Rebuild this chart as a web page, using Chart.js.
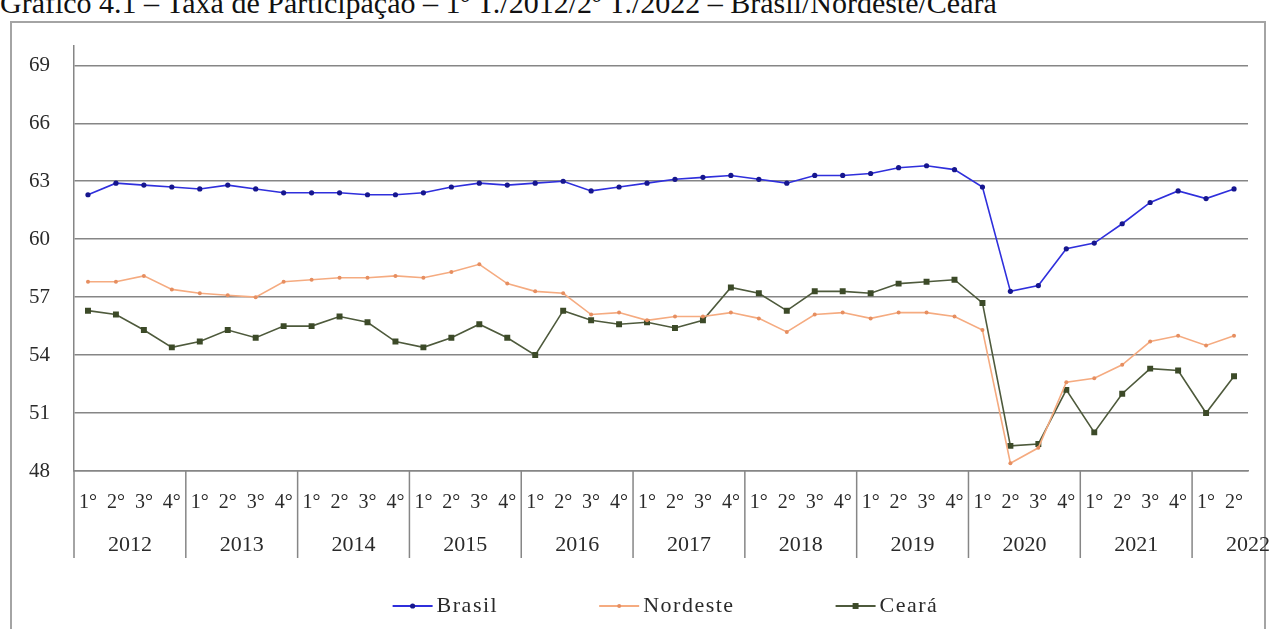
<!DOCTYPE html>
<html>
<head>
<meta charset="utf-8">
<script src="https://cdn.jsdelivr.net/npm/chart.js@4/dist/chart.umd.min.js"></script>
<style>
  html, body { margin: 0; padding: 0; background: #fff; overflow: hidden; }
  body { width: 1272px; height: 629px; position: relative; }
  #titulo {
    position: absolute; left: 0; top: -14px;
    font: 30px "Liberation Serif", "Times New Roman", serif;
    line-height: 34px;
    color: #111; white-space: nowrap;
  }
  #moldura {
    position: absolute; left: 10px; top: 21px; width: 1256px; height: 700px;
    border: 2px solid #a4a4a4; box-sizing: border-box;
  }
  #grafico { position: absolute; left: 0; top: 0; }
</style>
</head>
<body>
<div id="titulo">Gráfico 4.1 – Taxa de Participação – 1º T./2012/2º T./2022 – Brasil/Nordeste/Ceará</div>
<div id="moldura"></div>
<canvas id="grafico" width="1272" height="629"></canvas>
<script>
// Taxa de participação (%), trimestral
const anos = ['2012', '2013', '2014', '2015', '2016', '2017', '2018', '2019', '2020', '2021', '2022'];
const trimestres = ['1°', '2°', '3°', '4°'];
const ticksY = [48, 51, 54, 57, 60, 63, 66, 69];

const brasil = [
  62.3, 62.9, 62.8, 62.7,
  62.6, 62.8, 62.6, 62.4,
  62.4, 62.4, 62.3, 62.3,
  62.4, 62.7, 62.9, 62.8,
  62.9, 63.0, 62.5, 62.7,
  62.9, 63.1, 63.2, 63.3,
  63.1, 62.9, 63.3, 63.3,
  63.4, 63.7, 63.8, 63.6,
  62.7, 57.3, 57.6, 59.5,
  59.8, 60.8, 61.9, 62.5,
  62.1, 62.6,
];
const nordeste = [
  57.8, 57.8, 58.1, 57.4,
  57.2, 57.1, 57.0, 57.8,
  57.9, 58.0, 58.0, 58.1,
  58.0, 58.3, 58.7, 57.7,
  57.3, 57.2, 56.1, 56.2,
  55.8, 56.0, 56.0, 56.2,
  55.9, 55.2, 56.1, 56.2,
  55.9, 56.2, 56.2, 56.0,
  55.3, 48.4, 49.2, 52.6,
  52.8, 53.5, 54.7, 55.0,
  54.5, 55.0,
];
const ceara = [
  56.3, 56.1, 55.3, 54.4,
  54.7, 55.3, 54.9, 55.5,
  55.5, 56.0, 55.7, 54.7,
  54.4, 54.9, 55.6, 54.9,
  54.0, 56.3, 55.8, 55.6,
  55.7, 55.4, 55.8, 57.5,
  57.2, 56.3, 57.3, 57.3,
  57.2, 57.7, 57.8, 57.9,
  56.7, 49.3, 49.4, 52.2,
  50.0, 52.0, 53.3, 53.2,
  51.0, 52.9,
];

// rótulos "1° 2012", "2° 2012", ... (2022 só tem dois trimestres)
const rotulos = anos.flatMap((ano) =>
  (ano === '2022' ? trimestres.slice(0, 2) : trimestres).map((t) => `${t} ${ano}`)
);

const serif = '"Liberation Serif", "Times New Roman", serif';
const corGrade = '#868686';
const corTexto = '#2a2a2a';

const series = [
  { label: 'Brasil', data: brasil, cor: '#2f2fdc', marcador: '#16168e', estilo: 'circle', raio: 2.6 },
  { label: 'Nordeste', data: nordeste, cor: '#f5ab80', marcador: '#e68e60', estilo: 'circle', raio: 2 },
  { label: 'Ceará', data: ceara, cor: '#4e5a3c', marcador: '#3c4a28', estilo: 'rect', raio: 4.2 },
];

/**
 * anos embaixo dos trimestres, divisórias e a legenda
 */
const eixoAnos = {
  id: 'eixoAnos',
  afterDraw(chart) {
    const ctx = chart.ctx;
    const x = chart.scales.x;
    const area = chart.chartArea;
    const passo = x.getPixelForValue(1) - x.getPixelForValue(0);

    ctx.save();
    ctx.strokeStyle = corGrade;
    ctx.lineWidth = 1.5;
    ctx.fillStyle = corTexto;
    ctx.font = `22px ${serif}`;
    ctx.textAlign = 'center';
    ctx.textBaseline = 'middle';

    anos.forEach((ano, k) => {
      const inicio = x.getPixelForValue(k * 4) - passo / 2;
      ctx.beginPath();
      ctx.moveTo(inicio, area.bottom);
      ctx.lineTo(inicio, area.bottom + 87);
      ctx.stroke();
      ctx.fillText(ano, inicio + passo * 2, area.bottom + 74);
    });

    // legenda
    ctx.font = `22px ${serif}`;
    ctx.letterSpacing = '1.5px';
    ctx.textAlign = 'left';
    const linha = 40;
    const espaco = 100;
    const larguras = chart.data.datasets.map((ds) => linha + 5 + ctx.measureText(ds.label).width);
    const total = larguras.reduce((a, b) => a + b) + espaco * (larguras.length - 1);
    let px = (area.left + area.right) / 2 - total / 2 + 5;
    const py = area.bottom + 135;

    chart.data.datasets.forEach((ds, i) => {
      ctx.strokeStyle = ds.borderColor;
      ctx.lineWidth = 1.8;
      ctx.beginPath();
      ctx.moveTo(px, py);
      ctx.lineTo(px + linha, py);
      ctx.stroke();

      ctx.fillStyle = ds.pointBackgroundColor;
      const cx = px + linha / 2;
      if(ds.pointStyle === 'rect') {
        const s = ds.pointRadius * Math.SQRT1_2;
        ctx.fillRect(cx - s, py - s, 2 * s, 2 * s);
      } else {
        ctx.beginPath();
        ctx.arc(cx, py, ds.pointRadius, 0, 2 * Math.PI);
        ctx.fill();
      }

      ctx.fillStyle = corTexto;
      ctx.fillText(ds.label, px + linha + 4, py);
      px += larguras[i] + espaco;
    });

    ctx.restore();
  },
};

new Chart(document.getElementById('grafico'), {
  type: 'line',
  data: {
    labels: rotulos,
    datasets: series.map((s) => ({
      label: s.label,
      data: s.data,
      borderColor: s.cor,
      borderWidth: 1.6,
      backgroundColor: s.marcador,
      pointBackgroundColor: s.marcador,
      pointBorderColor: s.marcador,
      pointBorderWidth: 0,
      pointStyle: s.estilo,
      pointRadius: s.raio,
      tension: 0,
    })),
  },
  options: {
    responsive: false,
    animation: false,
    layout: {
      padding: { left: 0, right: 24, top: 46, bottom: 0 },
    },
    scales: {
      x: {
        offset: true,
        afterFit: (scale) => { scale.height = 158; },
        grid: { display: false, drawTicks: false },
        border: { display: true, color: corGrade, width: 1.5 },
        ticks: {
          autoSkip: false,
          maxRotation: 0,
          padding: 20,
          color: corTexto,
          font: { family: serif, size: 20 },
          callback: function(value) {
            return this.getLabelForValue(value).split(' ')[0];
          },
        },
      },
      y: {
        min: 48,
        max: 70,
        afterFit: (scale) => { scale.width = 74; },
        afterBuildTicks: (scale) => {
          scale.ticks = ticksY.map((v) => ({ value: v }));
        },
        grid: { color: corGrade, lineWidth: 1.5, drawTicks: false },
        border: { display: true, color: corGrade, width: 1.5 },
        ticks: {
          padding: 24,
          color: corTexto,
          font: { family: serif, size: 21 },
        },
      },
    },
    plugins: {
      legend: { display: false },
      tooltip: { enabled: false },
    },
  },
  plugins: [eixoAnos],
});
</script>
</body>
</html>
